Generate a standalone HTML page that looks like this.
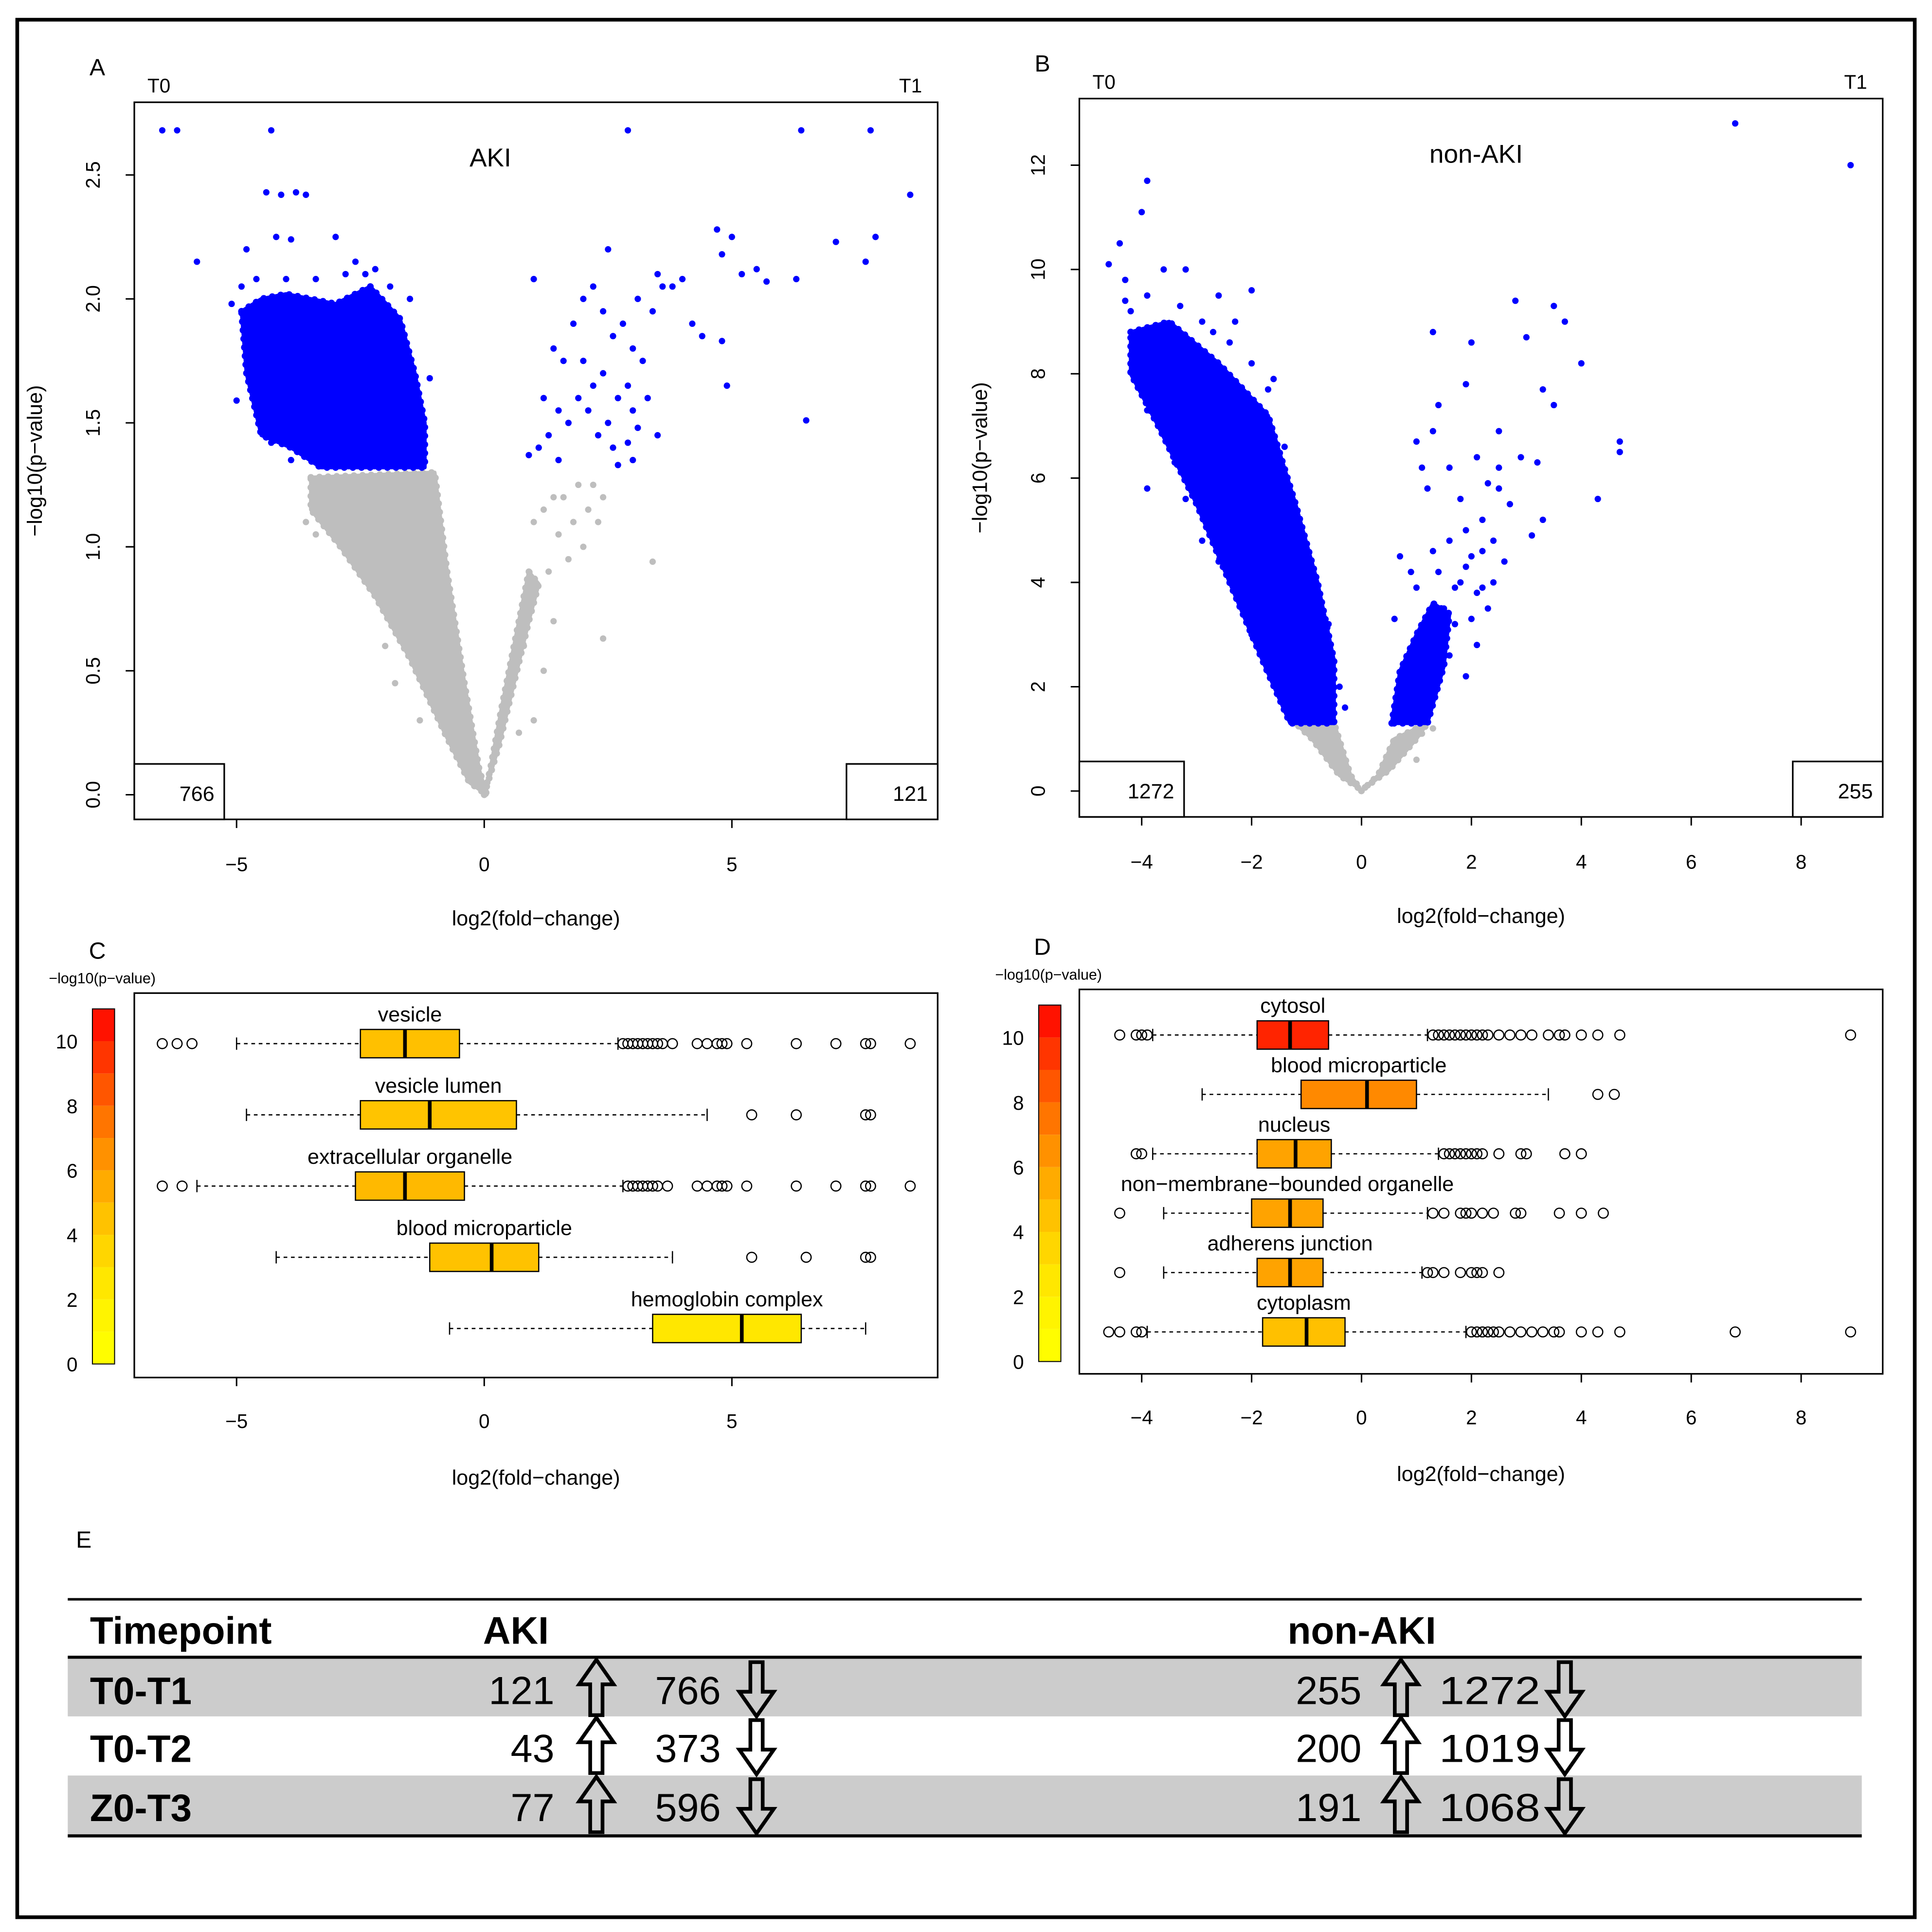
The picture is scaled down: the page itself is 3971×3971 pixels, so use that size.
<!DOCTYPE html>
<html><head><meta charset="utf-8"><style>
html,body{margin:0;padding:0;background:#fff}
svg{display:block}
text{font-family:"Liberation Sans",sans-serif;fill:#000}
</style></head><body>
<svg id="fig" xmlns="http://www.w3.org/2000/svg" width="3971" height="3971" viewBox="0 0 1568 1568">
<rect x="14" y="16" width="1540" height="1540" fill="#fff" stroke="#000" stroke-width="3"/>
<g id="gA"></g>
<g id="gB"></g>
<g id="gC"></g>
<g id="gD"></g>
<g id="gE"></g>
</svg>
<script>
// ---------- DATA ----------
const aXTicks=[-5,0,5];
const aYTicks=[0,0.5,1,1.5,2,2.5];
const aYLabels=["0.0","0.5","1.0","1.5","2.0","2.5"];
const aBlueCloud=[[-4.9,1.95],[-4.5,2.0],[-4,2.02],[-3,1.98],[-2.3,2.05],[-1.7,1.92],[-1.4,1.7],[-1.2,1.5],[-1.2,1.32],[-3.3,1.32],[-3.9,1.4],[-4.5,1.45],[-4.8,1.7]];
const aGreyCloud=[[-3.5,1.28],[-1.0,1.3],[-0.75,0.9],[-0.4,0.45],[-0.1,0.1],[0.05,0.0],[-0.3,0.05],[-0.8,0.25],[-1.5,0.55],[-2.2,0.8],[-2.9,1.0],[-3.5,1.15]];
const aGreyCloud2=[[0,0],[0.3,0.2],[0.6,0.45],[0.9,0.7],[1.1,0.85],[0.9,0.9],[0.6,0.6],[0.35,0.35],[0.12,0.1]];
const aBluePts=[[-6.5,2.68],[-6.2,2.68],[-4.3,2.68],[2.9,2.68],[6.4,2.68],[7.8,2.68],[8.6,2.42],[-5.8,2.15],[-4.4,2.43],[-4.1,2.42],[-3.8,2.43],[-3.6,2.42],[-4.2,2.25],[-3.9,2.24],[-3,2.25],[-4.8,2.2],[4.7,2.28],[5,2.25],[7.1,2.23],[7.9,2.25],[7.7,2.15],[6.3,2.08],[5.5,2.12],[5.2,2.1],[5.7,2.07],[4.8,2.18],[1,2.08],[2.5,2.2],[3.5,2.1],[4.4,1.85],[4.2,1.9],[4.8,1.83],[4.9,1.65],[6.5,1.51],[-5,1.59],[0.9,1.37],[1.5,1.35],[2.7,1.33],[-1.1,1.68],[-1.5,2.0],[-5.1,1.98],[-4.6,2.08],[-2.6,2.15],[-2.4,2.1],[-1.9,2.05],[-4.9,2.05],[-3.4,2.08],[-2.8,2.1],[-2.2,2.12],[-3.6,2.0],[-4.0,2.08],[-4.6,1.62],[-4.3,1.42],[-3.9,1.35],
[1.2,1.6],[1.4,1.8],[1.6,1.75],[1.8,1.9],[2.0,2.0],[2.2,2.05],[2.4,1.95],[2.6,1.85],[2.8,1.9],[3.0,1.8],[3.1,2.0],[3.2,1.75],[3.4,1.95],[3.6,2.05],[3.8,2.05],[4.0,2.08],[2.9,1.65],[3.0,1.55],[2.7,1.6],[2.5,1.5],[2.3,1.45],[2.1,1.55],[1.9,1.6],[1.7,1.5],[1.3,1.45],[1.1,1.4],[2.6,1.4],[2.9,1.42],[3.1,1.48],[3.3,1.6],[3.5,1.45],[2.4,1.7],[2.0,1.75],[1.5,1.55],[2.2,1.65],[3.0,1.35]];
const aGreyPts=[[1.0,1.1],[1.2,1.15],[1.3,0.9],[1.5,1.05],[1.6,1.2],[1.8,1.1],[1.9,1.25],[2.0,1.0],[2.1,1.15],[2.2,1.25],[2.3,1.1],[1.7,0.95],[1.4,1.2],[0.9,0.9],[0.8,0.6],[2.4,1.2],[3.4,0.94],[2.4,0.63],[-3.4,1.05],[-3.0,1.15],[-3.2,1.1],[-2.8,1.0],[-2.6,0.95],[-3.6,1.1],[1.2,0.5],[1.0,0.3],[0.7,0.25],[1.4,0.7],[-2.0,0.6],[-1.8,0.45],[-1.3,0.3]];
const aCounts=["766","121"];

const bXTicks=[-4,-2,0,2,4,6,8];
const bYTicks=[0,2,4,6,8,10,12];
const bBlueCloud=[[-4.2,8.8],[-3.5,9.0],[-2.6,8.2],[-1.7,7.2],[-1.2,5.5],[-0.8,4.0],[-0.5,2.5],[-0.5,1.3],[-1.3,1.3],[-1.8,2.5],[-2.4,4.0],[-3.0,5.5],[-3.7,7.0],[-4.2,8.0]];
const bBlueCloud2=[[0.55,1.3],[0.7,2.3],[1.0,3.0],[1.3,3.6],[1.6,3.4],[1.5,2.4],[1.2,1.3]];
const bGreyCloud=[[-1.2,1.3],[-0.5,1.3],[-0.2,0.3],[0,0],[0.3,0.3],[0.6,1.0],[1.2,1.3],[1.0,1.0],[0.5,0.4],[0,0.02],[-0.4,0.3],[-0.9,1.0]];
const bBluePts=[[-4.6,10.1],[-4.4,10.5],[-4.0,11.1],[-3.9,11.7],[-4.3,9.8],[-3.6,10.0],[-3.2,10.0],[-2.6,9.5],[-2.0,9.6],[-2.3,9.0],[-4.1,8.3],[-3.9,7.3],[-3.9,5.8],[-3.5,6.8],[-4.2,9.2],[-3.0,8.3],[-2.7,8.8],[-1.6,7.9],[-3.4,6.3],[-3.2,5.6],[-2.9,4.8],[-2.6,4.4],[-3.7,7.8],[-2.2,3.6],[-2.0,3.0],[-1.7,2.3],[-0.4,2.0],[-0.6,3.2],[-0.3,1.6],[-4.3,9.4],[-3.9,9.5],[-3.3,9.3],[-2.9,9.0],[-2.4,8.6],[-2.0,8.2],[-1.7,7.7],[-1.4,6.6],[-4.0,8.6],[-3.6,8.0],[6.8,12.8],[8.9,12.0],[3.5,9.3],[3.7,9.0],[2.8,9.4],[3.0,8.7],[4.0,8.2],[3.3,7.7],[3.5,7.4],[2.9,6.4],[3.2,6.3],[4.7,6.7],[4.7,6.5],[4.3,5.6],[3.1,4.9],[3.3,5.2],[1.3,8.8],[1.4,7.4],[1.3,6.9],[1.0,6.7],[1.1,6.2],[2.0,8.6],[1.9,7.8],[2.1,6.4],[2.5,6.9],[2.5,6.2],[2.3,5.9],[1.8,5.6],[2.2,5.2],[2.5,5.8],[2.6,4.4],[2.4,4.0],[1.9,5.0],[1.6,4.8],[2.3,3.5],[2.0,3.3],[1.7,3.9],[2.7,5.5],[1.2,5.8],[1.6,6.2],[1.5,3.5],[2.4,4.8],[0.7,4.5],[0.9,4.2],[0.6,3.3],[1.0,3.9],[1.3,4.6],[2.1,3.8],[2.2,4.6],[1.9,4.3],[1.8,4.0],[2.0,4.5],[1.7,3.2],[2.1,2.8],[1.6,2.6],[1.9,2.2],[1.4,4.2],[2.2,3.9]];
const bGreyPts=[[-1.0,1.2],[-0.8,1.0],[-0.6,0.7],[0.8,0.8],[1.1,1.1],[1.3,1.2],[1.0,0.6],[-0.3,0.5]];
const bCounts=["1272","255"];

const cRows=["vesicle","vesicle lumen","extracellular organelle","blood microparticle","hemoglobin complex"];
const cWlo=[-5,-4.8,-5.8,-4.2,-0.7];
const cQ1=[-2.5,-2.5,-2.6,-1.1,3.4];
const cMed=[-1.6,-1.1,-1.6,0.15,5.2];
const cQ3=[-0.5,0.65,-0.4,1.1,6.4];
const cWhi=[2.7,4.5,2.8,3.8,7.7];
const cScore=[4.6,4.4,4.9,4.5,2.5];
const cOut=[[-6.5,-6.2,-5.9,2.8,2.9,3.0,3.1,3.2,3.3,3.4,3.5,3.6,3.8,4.3,4.5,4.7,4.8,4.9,5.3,6.3,7.1,7.7,7.8,8.6],[5.4,6.3,7.7,7.8],[-6.5,-6.1,2.9,3.0,3.1,3.2,3.3,3.4,3.5,3.7,4.3,4.5,4.7,4.8,4.9,5.3,6.3,7.1,7.7,7.8,8.6],[5.4,6.5,7.7,7.8],[]];

const dRows=["cytosol","blood microparticle","nucleus","non\u2212membrane\u2212bounded organelle","adherens junction","cytoplasm"];
const dWlo=[-3.8,-2.9,-3.8,-3.6,-3.6,-3.9];
const dQ1=[-1.9,-1.1,-1.9,-2.0,-1.9,-1.8];
const dMed=[-1.3,0.1,-1.2,-1.3,-1.3,-1.0];
const dQ3=[-0.6,1.0,-0.55,-0.7,-0.7,-0.3];
const dWhi=[1.2,3.4,1.4,1.2,1.1,1.9];
const dScore=[10.0,6.8,5.8,5.8,5.8,4.6];
const dOut=[[-4.4,-4.1,-4.0,-3.9,1.3,1.4,1.5,1.6,1.7,1.8,1.9,2.0,2.1,2.2,2.3,2.5,2.7,2.9,3.1,3.4,3.6,3.7,4.0,4.3,4.7,8.9],[4.3,4.6],[-4.1,-4.0,1.5,1.6,1.7,1.8,1.9,2.0,2.1,2.2,2.5,2.9,3.0,3.7,4.0],[-4.4,1.3,1.5,1.8,1.9,2.0,2.2,2.4,2.8,2.9,3.6,4.0,4.4],[-4.4,1.2,1.3,1.5,1.8,2.0,2.1,2.2,2.5],[-4.6,-4.4,-4.1,-4.0,2.0,2.1,2.2,2.3,2.4,2.5,2.7,2.9,3.1,3.3,3.5,3.6,4.0,4.3,4.7,6.8,8.9]];
const cbTicks=[0,2,4,6,8,10];

const tRows=["T0-T1","T0-T2","Z0-T3"];
const tAkiUp=["121","43","77"];
const tAkiDn=["766","373","596"];
const tNonUp=["255","200","191"];
const tNonDn=["1272","1019","1068"];

// ---------- HELPERS ----------
const NS="http://www.w3.org/2000/svg";
function mk(parent,tag,attrs,txt){const e=document.createElementNS(NS,tag);for(const k in attrs)e.setAttribute(k,attrs[k]);if(txt!==undefined)e.textContent=txt;parent.appendChild(e);return e;}
function lin(d0,d1,r0,r1){return v=>r0+(v-d0)*(r1-r0)/(d1-d0);}
function heat(s){const t=Math.max(0,Math.min(1,s/11));return "hsl("+(60*(1-Math.pow(t,1.6)))+",100%,50%)";}

function volcano(g,o){
  const X=lin(0,1,o.x0,o.x0+o.xu),Y=lin(0,1,o.y0,o.y0-o.yu);
  let e=mk(g,"rect",{x:o.L,y:o.T,width:o.R-o.L,height:o.B-o.T,fill:"none",stroke:"#000","stroke-width":1.3});
  
  const poly=(pts,col,name)=>{const ps=pts.map(q=>X(q[0])+","+Y(q[1])).join(" ");
    const p=mk(g,"polygon",{points:ps,fill:col,stroke:col,"stroke-width":3,"stroke-linejoin":"round"});
    const f=mk(g,"polygon",{points:ps,fill:"none",stroke:col,"stroke-width":5.5,"stroke-linecap":"round","stroke-dasharray":"0 7"});};
  o.grey.forEach(c=>poly(c,"#bebebe","grey-point-cloud"));
  o.greyPts.forEach(q=>{const c=mk(g,"circle",{cx:X(q[0]),cy:Y(q[1]),r:2.6,fill:"#bebebe"});});
  o.blue.forEach(c=>poly(c,"#0000ff","blue-point-cloud"));
  o.bluePts.forEach(q=>{const c=mk(g,"circle",{cx:X(q[0]),cy:Y(q[1]),r:2.6,fill:"#0000ff"});});
  o.xt.forEach(v=>{mk(g,"line",{x1:X(v),x2:X(v),y1:o.B,y2:o.B+7,stroke:"#000","stroke-width":1.2});
    const t=mk(g,"text",{x:X(v),y:o.B+42,"font-size":16,"text-anchor":"middle"},v<0?"\u2212"+(-v):""+v);});
  o.yt.forEach((v,i)=>{mk(g,"line",{x1:o.L,x2:o.L-7,y1:Y(v),y2:Y(v),stroke:"#000","stroke-width":1.2});
    const t=mk(g,"text",{x:o.L-28,y:Y(v),"font-size":16,"text-anchor":"middle",transform:"rotate(-90 "+(o.L-28)+" "+Y(v)+")"},o.yl[i]);});
  mk(g,"rect",{x:o.L,y:o.B-45,width:o.cbw[0],height:45,fill:"#fff",stroke:"#000","stroke-width":1.3});
  let t=mk(g,"text",{x:o.L+o.cbw[0]-8,y:o.B-15,"font-size":17,"text-anchor":"end"},o.counts[0]);
  mk(g,"rect",{x:o.R-o.cbw[1],y:o.B-45,width:o.cbw[1],height:45,fill:"#fff",stroke:"#000","stroke-width":1.3});
  t=mk(g,"text",{x:o.R-8,y:o.B-15,"font-size":17,"text-anchor":"end"},o.counts[1]);
  t=mk(g,"text",{x:o.tx,y:o.T+52,"font-size":21,"text-anchor":"middle"},o.title);
  t=mk(g,"text",{x:o.L+20,y:o.T-8,"font-size":16,"text-anchor":"middle"},"T0");
  t=mk(g,"text",{x:o.R-22,y:o.T-8,"font-size":16,"text-anchor":"middle"},"T1");
  t=mk(g,"text",{x:o.L-30,y:o.T-22,"font-size":19,"text-anchor":"middle"},o.letter);
  t=mk(g,"text",{x:(o.L+o.R)/2,y:o.B+86,"font-size":17,"text-anchor":"middle"},"log2(fold\u2212change)");
  const yc=(o.T+o.B)/2,yx=o.L-75;
  t=mk(g,"text",{x:yx,y:yc,"font-size":17,"text-anchor":"middle",transform:"rotate(-90 "+yx+" "+yc+")"},"\u2212log10(p\u2212value)");
}

function boxes(g,o){
  const X=lin(0,1,o.x0,o.x0+o.xu);
  let e=mk(g,"rect",{x:o.L,y:o.T,width:o.R-o.L,height:o.B-o.T,fill:"none",stroke:"#000","stroke-width":1.3});
  
  o.rows.forEach((name,i)=>{
    const y=o.r0+i*o.rs,h=23;
    mk(g,"line",{x1:X(o.wlo[i]),x2:X(o.q1[i]),y1:y,y2:y,stroke:"#000","stroke-width":1,"stroke-dasharray":"3,3"});
    mk(g,"line",{x1:X(o.q3[i]),x2:X(o.whi[i]),y1:y,y2:y,stroke:"#000","stroke-width":1,"stroke-dasharray":"3,3"});
    mk(g,"line",{x1:X(o.wlo[i]),x2:X(o.wlo[i]),y1:y-5,y2:y+5,stroke:"#000","stroke-width":1});
    mk(g,"line",{x1:X(o.whi[i]),x2:X(o.whi[i]),y1:y-5,y2:y+5,stroke:"#000","stroke-width":1});
    const r=mk(g,"rect",{x:X(o.q1[i]),y:y-h/2,width:X(o.q3[i])-X(o.q1[i]),height:h,fill:heat(o.score[i]),stroke:"#000","stroke-width":1});
    
    mk(g,"line",{x1:X(o.med[i]),x2:X(o.med[i]),y1:y-h/2,y2:y+h/2,stroke:"#000","stroke-width":3});
    o.out[i].forEach(v=>{const c=mk(g,"circle",{cx:X(v),cy:y,r:4,fill:"none",stroke:"#000","stroke-width":1});});
    const t=mk(g,"text",{x:(X(o.q1[i])+X(o.q3[i]))/2,y:y-18,"font-size":17,"text-anchor":"middle"},name);
  });
  o.xt.forEach(v=>{mk(g,"line",{x1:X(v),x2:X(v),y1:o.B,y2:o.B+7,stroke:"#000","stroke-width":1.2});
    const t=mk(g,"text",{x:X(v),y:o.B+41,"font-size":16,"text-anchor":"middle"},v<0?"\u2212"+(-v):""+v);});
  const CY=lin(0,1,o.cb0,o.cb0-o.cbu);
  for(let k=0;k<11;k++){const r=mk(g,"rect",{x:o.cbx,y:CY(k+1),width:18,height:CY(k)-CY(k+1),fill:heat(k+0.5)});}
  mk(g,"rect",{x:o.cbx,y:CY(11),width:18,height:CY(0)-CY(11),fill:"none",stroke:"#000","stroke-width":0.8});
  cbTicks.forEach(v=>{const t=mk(g,"text",{x:o.cbx-12,y:CY(v)+6,"font-size":16,"text-anchor":"end"},""+v);});
  let t=mk(g,"text",{x:o.cbx+8,y:o.T-8,"font-size":12,"text-anchor":"middle"},"\u2212log10(p\u2212value)");
  t=mk(g,"text",{x:o.L-30,y:o.T-28,"font-size":19,"text-anchor":"middle"},o.letter);
  t=mk(g,"text",{x:(o.L+o.R)/2,y:o.B+87,"font-size":17,"text-anchor":"middle"},"log2(fold\u2212change)");
}

volcano(document.getElementById("gA"),{L:109,R:761,T:83,B:665,x0:393,xu:40.2,y0:645,yu:201.2,xt:aXTicks,yt:aYTicks,yl:aYLabels,
  grey:[aGreyCloud,aGreyCloud2],greyPts:aGreyPts,blue:[aBlueCloud],bluePts:aBluePts,counts:aCounts,cbw:[73,74],title:"AKI",tx:398,letter:"A"});
volcano(document.getElementById("gB"),{L:876,R:1528,T:80,B:663,x0:1105,xu:44.6,y0:642,yu:42.33,xt:bXTicks,yt:bYTicks,yl:bYTicks.map(String),
  grey:[bGreyCloud],greyPts:bGreyPts,blue:[bBlueCloud,bBlueCloud2],bluePts:bBluePts,counts:bCounts,cbw:[85,73],title:"non-AKI",tx:1198,letter:"B"});
boxes(document.getElementById("gC"),{L:109,R:761,T:806,B:1118,x0:393,xu:40.2,xt:aXTicks,rows:cRows,wlo:cWlo,q1:cQ1,med:cMed,q3:cQ3,whi:cWhi,score:cScore,out:cOut,r0:847,rs:57.8,cbx:75,cb0:1107,cbu:26.2,letter:"C"});
boxes(document.getElementById("gD"),{L:876,R:1528,T:803,B:1115,x0:1105,xu:44.6,xt:bXTicks,rows:dRows,wlo:dWlo,q1:dQ1,med:dMed,q3:dQ3,whi:dWhi,score:dScore,out:dOut,r0:840,rs:48.2,cbx:843,cb0:1105,cbu:26.3,letter:"D"});

// ---------- TABLE ----------
(function(){
  const g=document.getElementById("gE");
  const TF='"DejaVu Sans","Liberation Sans",sans-serif';
  let t=mk(g,"text",{x:68,y:1256,"font-size":19,"text-anchor":"middle"},"E");
  const rowTop=[1346,1393,1441],rowH=[47,48,49];
  [0,2].forEach(i=>{const r=mk(g,"rect",{x:55,y:rowTop[i],width:1456,height:rowH[i],fill:"#cccccc"});});
  mk(g,"line",{x1:55,x2:1511,y1:1298,y2:1298,stroke:"#000","stroke-width":2});
  mk(g,"line",{x1:55,x2:1511,y1:1345,y2:1345,stroke:"#000","stroke-width":2.5});
  mk(g,"line",{x1:55,x2:1511,y1:1490,y2:1490,stroke:"#000","stroke-width":2.5});
  const hdr=[["Timepoint",73],["AKI",392],["non-AKI",1045]];
  hdr.forEach(h=>{const e=mk(g,"text",{x:h[1],y:1334,"font-size":31,"font-weight":"bold","font-family":TF},h[0]);});
  function up(x,yb){const p=mk(g,"path",{d:`M${x} ${yb-36} L${x+14} ${yb-16} L${x+5} ${yb-16} L${x+5} ${yb+9} L${x-5} ${yb+9} L${x-5} ${yb-16} L${x-14} ${yb-16} Z`,fill:"none",stroke:"#000","stroke-width":3});}
  function dn(x,yb){const p=mk(g,"path",{d:`M${x} ${yb+10} L${x+14} ${yb-10} L${x+5} ${yb-10} L${x+5} ${yb-34} L${x-5} ${yb-34} L${x-5} ${yb-10} L${x-14} ${yb-10} Z`,fill:"none",stroke:"#000","stroke-width":3});}
  const base=[1383,1430,1478];
  tRows.forEach((r,i)=>{
    const y=base[i];
    let e=mk(g,"text",{x:73,y:y,"font-size":31,"font-weight":"bold","font-family":TF},r);
    e=mk(g,"text",{x:450,y:y,"font-size":32,"text-anchor":"end","font-family":TF},tAkiUp[i]);
    up(484,y);
    e=mk(g,"text",{x:585,y:y,"font-size":32,"text-anchor":"end","font-family":TF},tAkiDn[i]);
    dn(614,y);
    e=mk(g,"text",{x:1105,y:y,"font-size":32,"text-anchor":"end","font-family":TF},tNonUp[i]);
    up(1137,y);
    e=mk(g,"text",{x:1168,y:y,"font-size":32,"font-family":TF,"textLength":82,"lengthAdjust":"spacingAndGlyphs"},tNonDn[i]);
    dn(1270,y);
  });
})();
</script>
</body></html>
